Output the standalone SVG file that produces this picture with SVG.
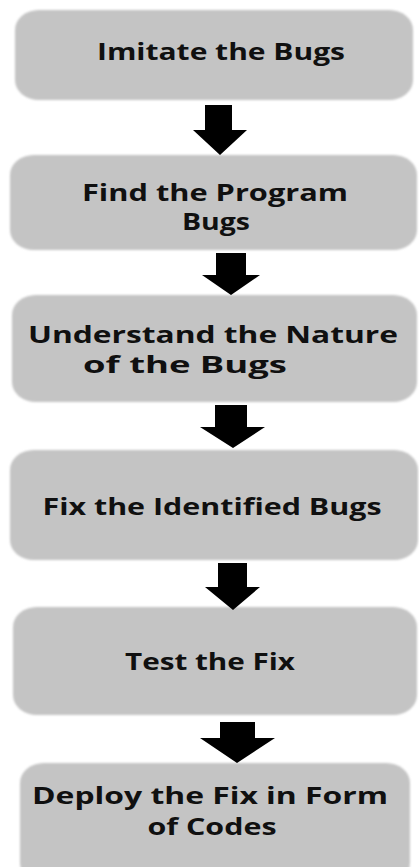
<svg xmlns="http://www.w3.org/2000/svg" width="419" height="867" viewBox="0 0 419 867">
  <defs>
    <filter id="soft" x="-5%" y="-5%" width="110%" height="110%">
      <feGaussianBlur stdDeviation="0.8"/>
    </filter>
  </defs>
  <style>
    .box { fill: #c4c4c4; filter: url(#soft); }
    .lbl { font-family: "Open Sans", "Liberation Sans", sans-serif; font-weight: bold; font-size: 24px; fill: #101010; text-anchor: middle; }
    .arrow { fill: #000000; }
  </style>
  <rect width="419" height="867" fill="#ffffff"/>

  <g id="step1">
    <rect class="box" x="15" y="10" width="398" height="90" rx="24" ry="20"/>
    <text class="lbl" x="221" y="60" textLength="248" lengthAdjust="spacingAndGlyphs">Imitate the Bugs</text>
  </g>

  <g id="step2">
    <rect class="box" x="10" y="155" width="407" height="95" rx="24" ry="20"/>
    <text class="lbl" x="215" y="201" textLength="266" lengthAdjust="spacingAndGlyphs">Find the Program</text>
    <text class="lbl" x="216" y="230" textLength="68" lengthAdjust="spacingAndGlyphs">Bugs</text>
  </g>

  <g id="step3">
    <rect class="box" x="12" y="295" width="405" height="107" rx="24" ry="20"/>
    <text class="lbl" x="213" y="343" textLength="370" lengthAdjust="spacingAndGlyphs">Understand the Nature</text>
    <text class="lbl" x="185" y="373" textLength="204" lengthAdjust="spacingAndGlyphs">of the Bugs</text>
  </g>

  <g id="step4">
    <rect class="box" x="10" y="450" width="408" height="110" rx="24" ry="20"/>
    <text class="lbl" x="212" y="515" textLength="339" lengthAdjust="spacingAndGlyphs">Fix the Identified Bugs</text>
  </g>

  <g id="step5">
    <rect class="box" x="13" y="607" width="404" height="108" rx="24" ry="20"/>
    <text class="lbl" x="210" y="670" textLength="170" lengthAdjust="spacingAndGlyphs">Test the Fix</text>
  </g>

  <g id="step6">
    <rect class="box" x="20" y="763" width="390" height="120" rx="24" ry="20"/>
    <text class="lbl" x="210" y="804" textLength="356" lengthAdjust="spacingAndGlyphs">Deploy the Fix in Form</text>
    <text class="lbl" x="212" y="835" textLength="129" lengthAdjust="spacingAndGlyphs">of Codes</text>
  </g>

  <g id="connectors">
    <polygon class="arrow" points="205,105 232,105 232,130 247,130 220,155 193,130 205,130"/>
    <polygon class="arrow" points="216,253 246,253 246,275 260,275 231,295 202,275 216,275"/>
    <polygon class="arrow" points="215,405 247,405 247,427 265,427 233,448 200,427 215,427"/>
    <polygon class="arrow" points="218,563 247,563 247,587 260,587 233,610 205,587 218,587"/>
    <polygon class="arrow" points="220,722 255,722 255,738 275,738 237,763 200,738 220,738"/>
  </g>
</svg>
